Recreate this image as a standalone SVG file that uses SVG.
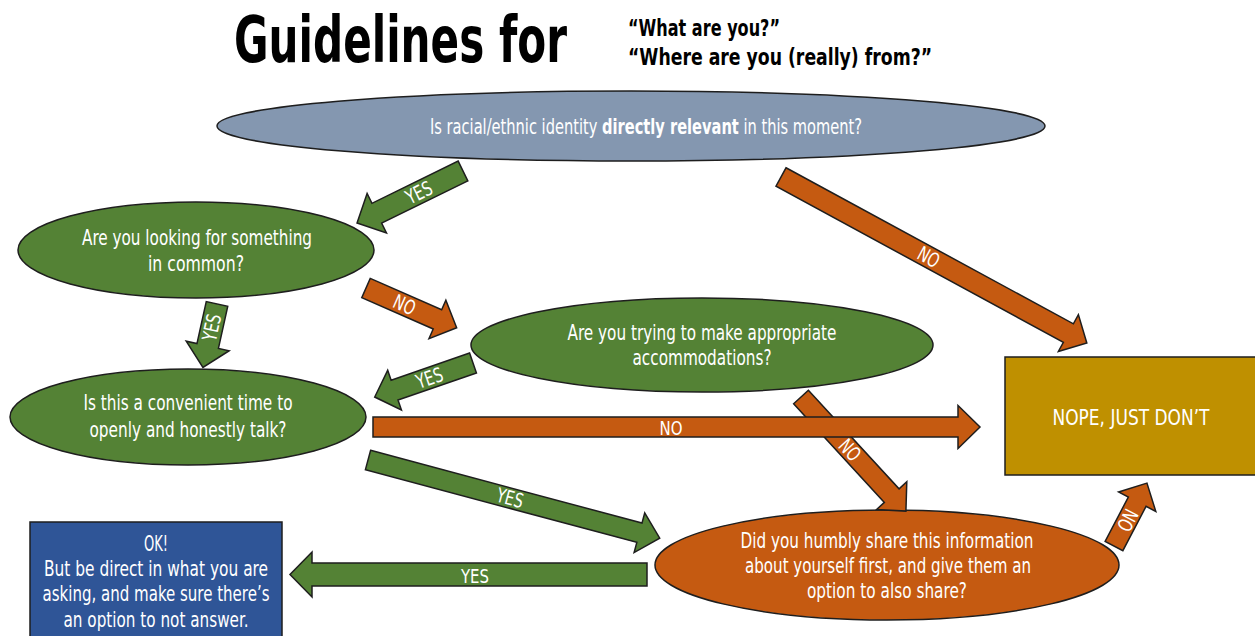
<svg xmlns="http://www.w3.org/2000/svg" width="1255" height="636" viewBox="0 0 1255 636">
<style>
text{font-family:"Liberation Sans Narrow","DejaVu Sans Condensed","Roboto Condensed","Liberation Sans",sans-serif;}
.t{fill:#fff;font-size:21px;text-anchor:middle;}
.lbl{fill:#fff;font-size:20px;text-anchor:middle;}
.title{fill:#000;font-weight:bold;}
.ln{stroke:#1e1e1e;stroke-width:1.5;}
.green{fill:#548235;}
.orange{fill:#C55A11;}
.slate{fill:#8497B0;}
.gold{fill:#BF9000;}
.blue{fill:#2F5597;}
</style>
<rect width="1255" height="636" fill="#fff"/>
<g id="title">
<text class="title" x="234" y="62" font-size="64" textLength="333" lengthAdjust="spacingAndGlyphs">Guidelines for</text>
<text class="title" x="628" y="36" font-size="23" textLength="152" lengthAdjust="spacingAndGlyphs">“What are you?”</text>
<text class="title" x="628" y="65" font-size="23" textLength="304" lengthAdjust="spacingAndGlyphs">“Where are you (really) from?”</text>
</g>
<g id="n-relevant">
<ellipse class="slate ln" cx="631" cy="126" rx="414" ry="35"/>
<text class="t" x="430" y="134" style="text-anchor:start" font-size="20" textLength="432" lengthAdjust="spacingAndGlyphs">Is racial/ethnic identity <tspan font-weight="bold">directly relevant</tspan> in this moment?</text>
</g>
<g id="n-common">
<ellipse class="green ln" cx="196" cy="250" rx="178" ry="48"/>
<text class="t" x="197" y="245" textLength="230" lengthAdjust="spacingAndGlyphs">Are you looking for something</text>
<text class="t" x="196" y="271" textLength="96" lengthAdjust="spacingAndGlyphs">in common?</text>
</g>
<g id="n-accommodations">
<ellipse class="green ln" cx="702" cy="345" rx="231" ry="47"/>
<text class="t" x="702" y="340" textLength="269" lengthAdjust="spacingAndGlyphs">Are you trying to make appropriate</text>
<text class="t" x="702" y="365" textLength="139" lengthAdjust="spacingAndGlyphs">accommodations?</text>
</g>
<g id="n-convenient">
<ellipse class="green ln" cx="188" cy="417" rx="178" ry="48"/>
<text class="t" x="188" y="410" textLength="209" lengthAdjust="spacingAndGlyphs">Is this a convenient time to</text>
<text class="t" x="188" y="437" textLength="197" lengthAdjust="spacingAndGlyphs">openly and honestly talk?</text>
</g>
<g id="n-nope">
<rect class="gold ln" x="1005" y="357" width="252" height="118"/>
<text class="t" x="1131" y="425" font-size="24" textLength="157" lengthAdjust="spacingAndGlyphs">NOPE, JUST DON’T</text>
</g>
<g id="n-share">
<ellipse class="orange ln" cx="887" cy="565" rx="232" ry="55"/>
<text class="t" x="887" y="548" textLength="293" lengthAdjust="spacingAndGlyphs">Did you humbly share this information</text>
<text class="t" x="888" y="573" textLength="286" lengthAdjust="spacingAndGlyphs">about yourself first, and give them an</text>
<text class="t" x="887" y="598" textLength="160" lengthAdjust="spacingAndGlyphs">option to also share?</text>
</g>
<g id="n-ok">
<rect class="blue ln" x="30" y="522" width="252" height="120"/>
<text class="t" x="156" y="551" textLength="24" lengthAdjust="spacingAndGlyphs">OK!</text>
<text class="t" x="156" y="576" textLength="224" lengthAdjust="spacingAndGlyphs">But be direct in what you are</text>
<text class="t" x="156" y="601" textLength="227" lengthAdjust="spacingAndGlyphs">asking, and make sure there’s</text>
<text class="t" x="156" y="627" textLength="185" lengthAdjust="spacingAndGlyphs">an option to not answer.</text>
</g>
<g id="connectors">
<g transform="translate(463,171) rotate(153.9)">
<polygon class="green ln" points="0,-11 96,-11 96,-22 118,0 96,22 96,11 0,11"/>
<text class="lbl" transform="translate(49,0) rotate(180)" y="7" textLength="27" lengthAdjust="spacingAndGlyphs">YES</text>
</g>
<g transform="translate(781,177) rotate(28.5)">
<polygon class="orange ln" points="0,-10.5 327,-10.5 327,-21 348,0 327,21 327,10.5 0,10.5"/>
<text class="lbl" x="168" y="7" textLength="22" lengthAdjust="spacingAndGlyphs">NO</text>
</g>
<g transform="translate(217,304) rotate(102.5)">
<polygon class="green ln" points="0,-11 43,-11 43,-22 65,0 43,22 43,11 0,11"/>
<text class="lbl" transform="translate(24,0) rotate(180)" y="7" textLength="27" lengthAdjust="spacingAndGlyphs">YES</text>
</g>
<g transform="translate(366,288) rotate(23.7)">
<polygon class="orange ln" points="0,-10.5 78,-10.5 78,-21 99,0 78,21 78,10.5 0,10.5"/>
<text class="lbl" x="42" y="7" textLength="22" lengthAdjust="spacingAndGlyphs">NO</text>
</g>
<g transform="translate(473,363) rotate(160.9)">
<polygon class="green ln" points="0,-10.5 83,-10.5 83,-21 104,0 83,21 83,10.5 0,10.5"/>
<text class="lbl" transform="translate(46,0) rotate(180)" y="7" textLength="27" lengthAdjust="spacingAndGlyphs">YES</text>
</g>
<g transform="translate(801,397) rotate(47.4)">
<polygon class="orange ln" points="0,-10 134,-10 134,-20.5 155,0 134,20.5 134,10 0,10"/>
<text class="lbl" x="72" y="7" textLength="22" lengthAdjust="spacingAndGlyphs">NO</text>
</g>
<g transform="translate(373,427)">
<polygon class="orange ln" points="0,-10 585,-10 585,-21.5 607,0 585,21.5 585,10 0,10"/>
<text class="lbl" x="298" y="8" textLength="23" lengthAdjust="spacingAndGlyphs">NO</text>
</g>
<g transform="translate(368,460) rotate(15)">
<polygon class="green ln" points="0,-10 281,-10 281,-20.5 302,0 281,20.5 281,10 0,10"/>
<text class="lbl" x="147" y="7" textLength="27" lengthAdjust="spacingAndGlyphs">YES</text>
</g>
<g transform="translate(1114,546) rotate(-62.35)">
<polygon class="orange ln" points="0,-10 50,-10 50,-21 71,0 50,21 50,10 0,10"/>
<text class="lbl" transform="translate(29,0) rotate(180)" y="7" textLength="22" lengthAdjust="spacingAndGlyphs">NO</text>
</g>
<g transform="translate(647,574.5) rotate(180)">
<polygon class="green ln" points="0,-11.5 335,-11.5 335,-22.5 357,0 335,22.5 335,11.5 0,11.5"/>
<text class="lbl" transform="translate(172,0) rotate(180)" y="8" textLength="28" lengthAdjust="spacingAndGlyphs">YES</text>
</g>
</g>
</svg>
